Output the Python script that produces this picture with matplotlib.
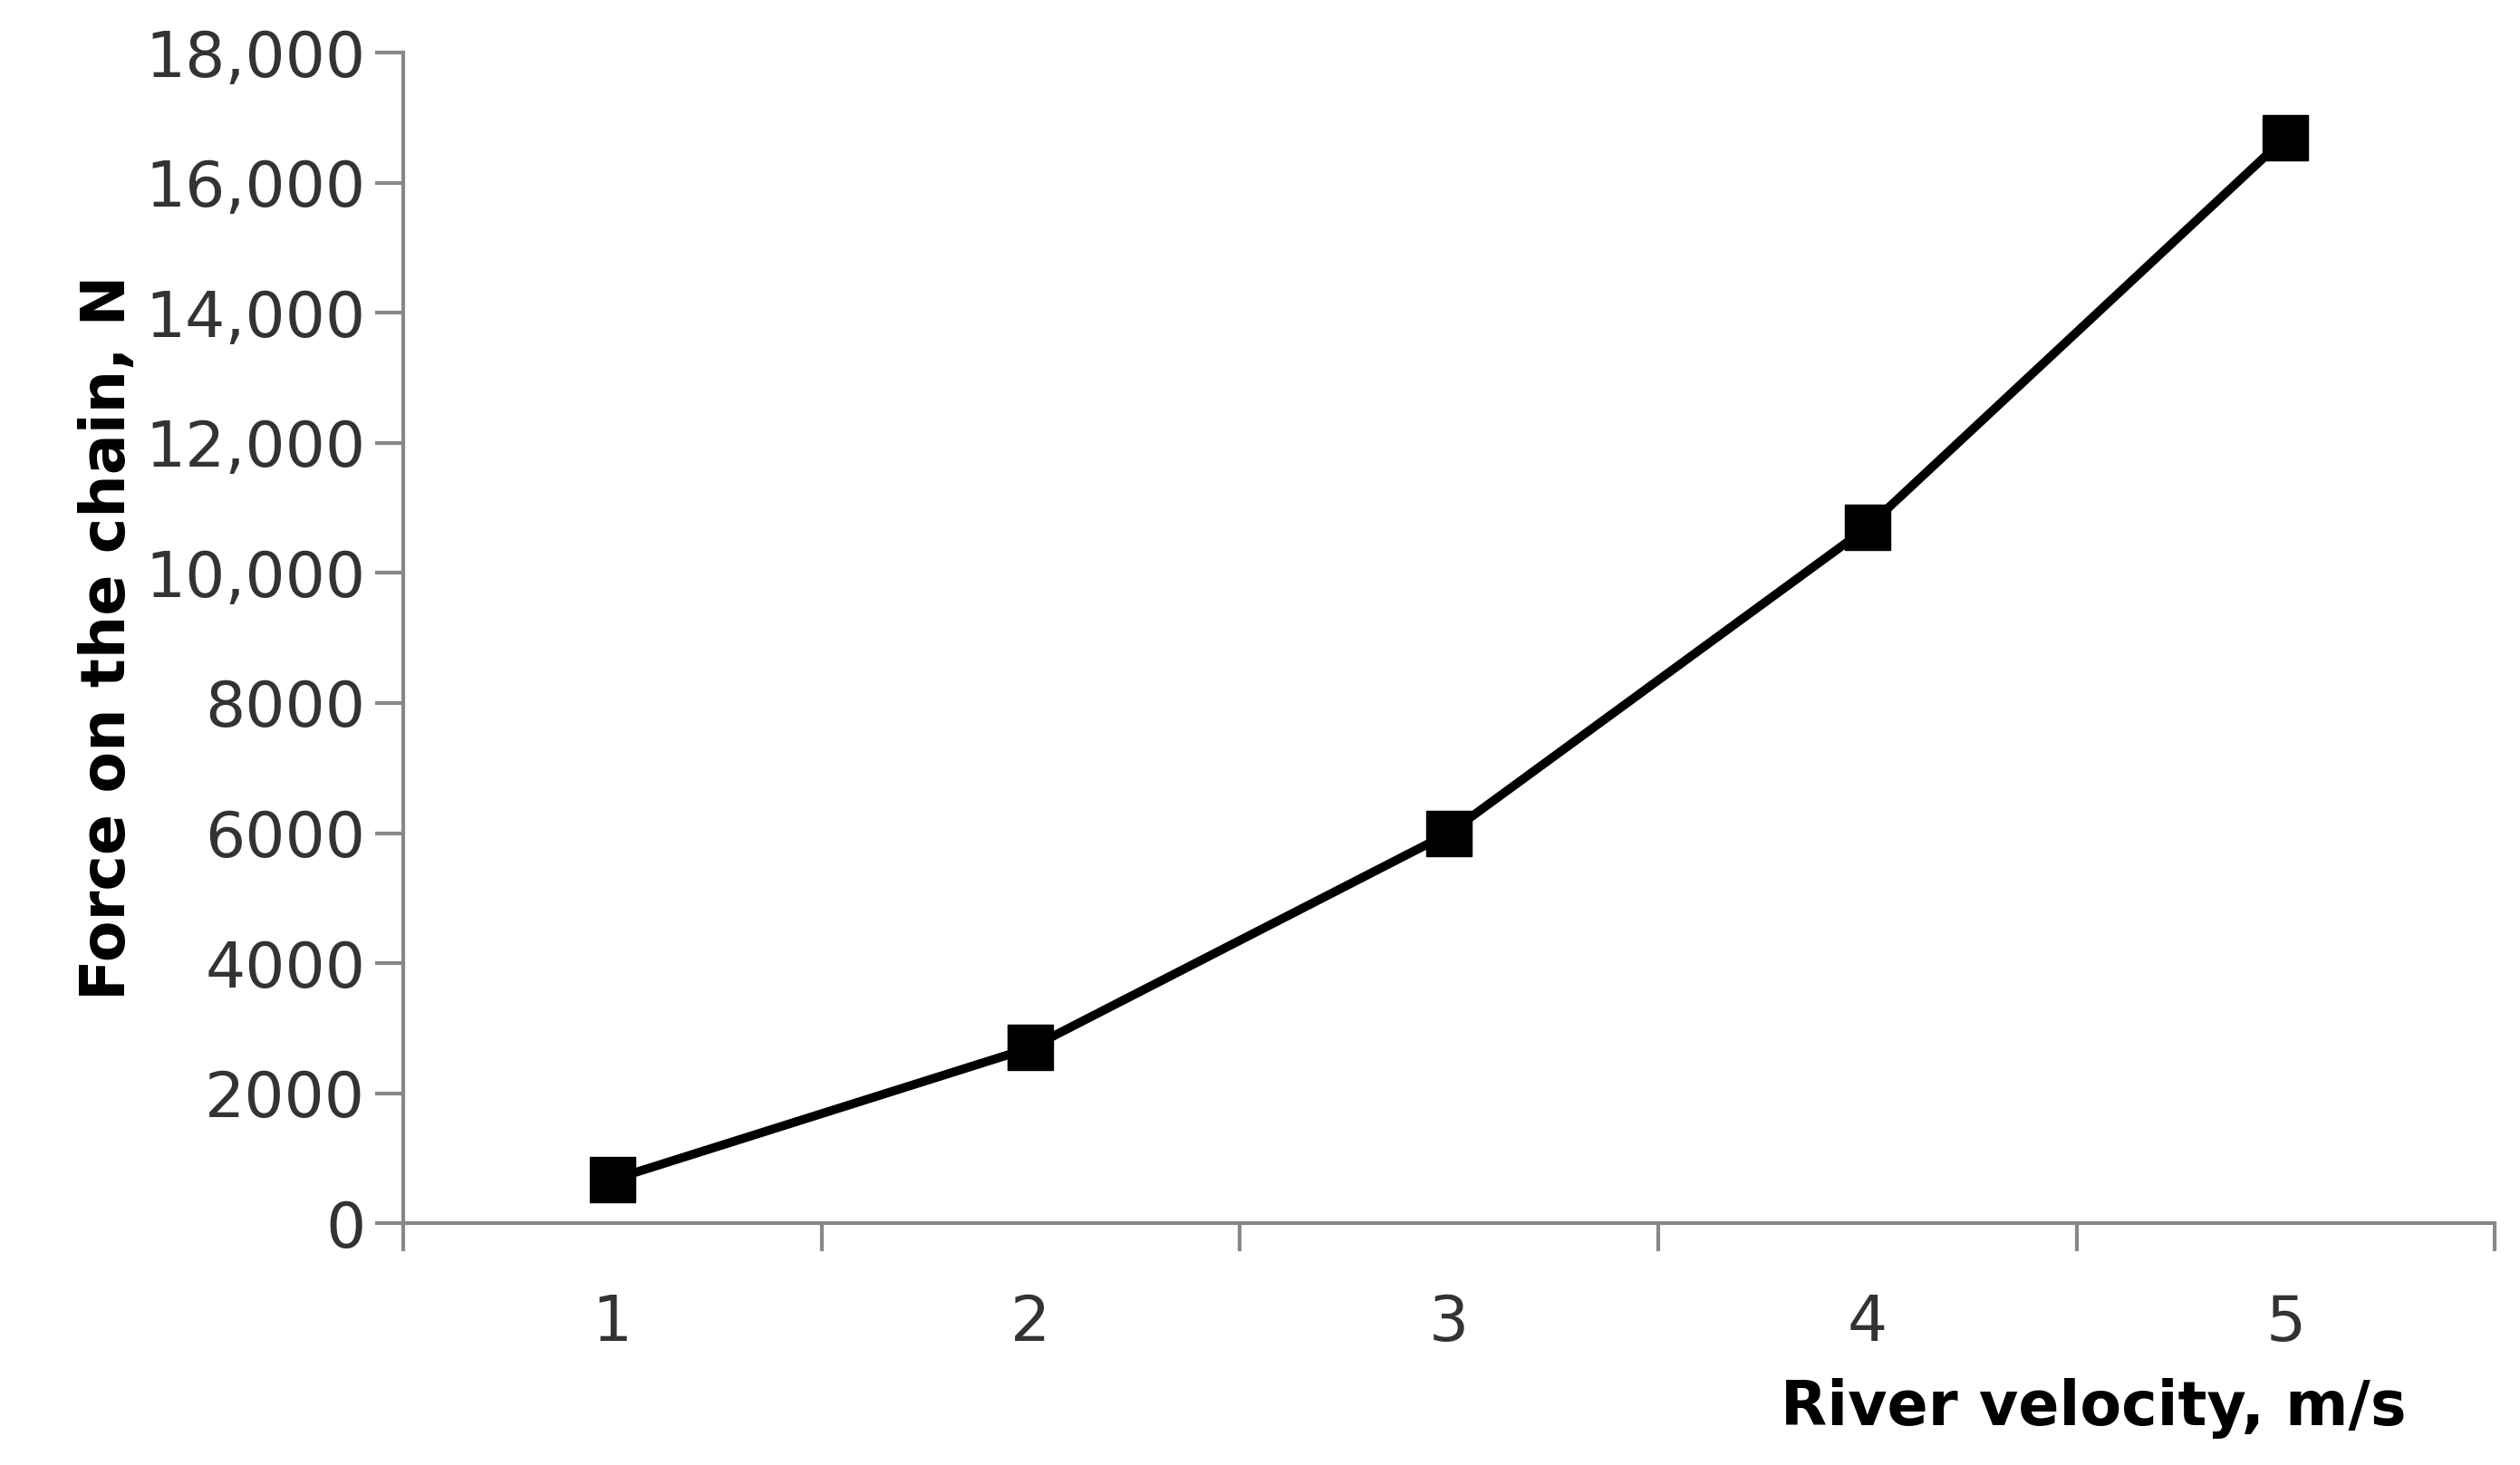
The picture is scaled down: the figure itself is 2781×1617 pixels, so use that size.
import matplotlib
matplotlib.use("Agg")
import matplotlib.pyplot as plt
from matplotlib.ticker import FixedLocator

velocity = [1, 2, 3, 4, 5]
force = [670, 2700, 6000, 10700, 16700]
y_ticks = [0, 2000, 4000, 6000, 8000, 10000, 12000, 14000, 16000, 18000]
y_labels = ["0", "2000", "4000", "6000", "8000", "10,000", "12,000", "14,000", "16,000", "18,000"]

plt.rcParams['font.family'] = ['DejaVu Sans']
fig = plt.figure(figsize=(27.81, 16.17), dpi=100)
ax = fig.add_axes([0.160, 0.165, 0.830, 0.799])
ax.plot(velocity, force, color='black', lw=7, marker='s', ms=36, mfc='black', mec='black')
ax.set_xlim(0.5, 5.5)
ax.set_ylim(0, 18000)
ax.set_yticks(y_ticks)
ax.set_yticklabels(y_labels, fontsize=50, color='#333333')
ax.set_xticks(velocity)
ax.set_xticklabels([str(v) for v in velocity], fontsize=50, color='#333333')
ax.xaxis.set_minor_locator(FixedLocator([0.5, 1.5, 2.5, 3.5, 4.5, 5.5]))
ax.tick_params(axis='x', which='major', length=0, pad=55)
ax.tick_params(axis='x', which='minor', length=22, width=3, direction='out', color='#888888')
ax.tick_params(axis='y', length=22, width=3, color='#888888', pad=8)
for s in ['top', 'right']:
    ax.spines[s].set_visible(False)
for s in ['left', 'bottom']:
    ax.spines[s].set_linewidth(3)
    ax.spines[s].set_color('#888888')
ax.set_ylabel("Force on the chain, N", fontsize=48, fontweight='bold', labelpad=6)
fig.text(0.955, 0.018, "River velocity, m/s", fontsize=48, fontweight='bold', ha='right', va='bottom')
fig.savefig("out.png", dpi=100)
